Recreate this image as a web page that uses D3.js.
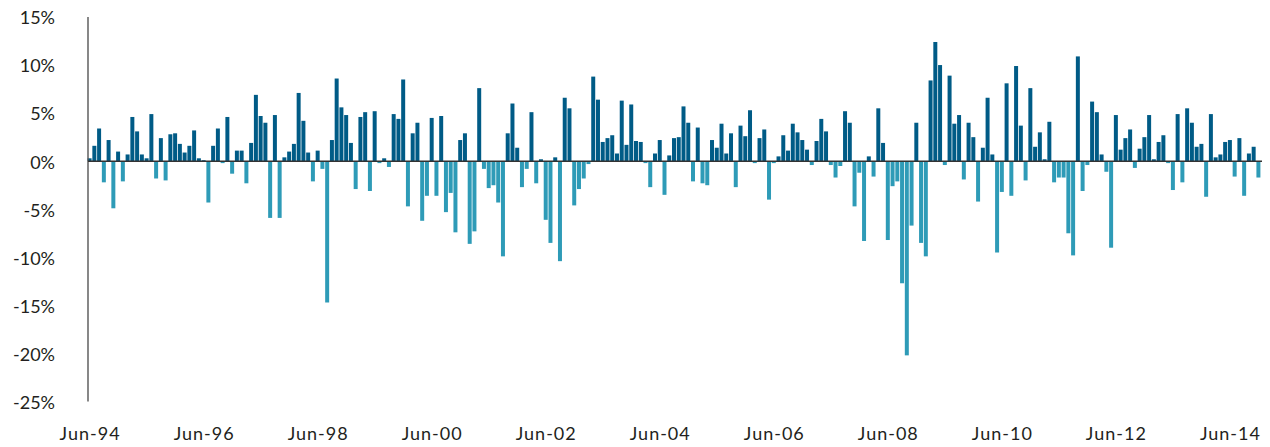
<!DOCTYPE html>
<html>
<head>
	<meta charset="UTF-8">
	<title>Monthly returns</title>
	<script src="https://cdn.jsdelivr.net/npm/d3@7"></script>
	<style>
		body {
			padding: 0;
			margin: 0;
			background: #fff;
		}
		text {
			font-family: Lato, "Noto Sans", sans-serif;
			font-size: 18px;
			fill: #231f20;
		}
	</style>
</head>
<body>
	<script>
		var w = 1270,
			h = 447;

		// monthly returns in %, Jun-94 .. Dec-14
		var returns = [
			0.3, 1.6, 3.4, -2.2, 2.2, -4.9, 1.0, -2.1, 0.7, 4.6, 3.1, 0.7,
			0.3, 4.9, -1.8, 2.4, -2.0, 2.8, 2.9, 1.8, 0.9, 1.6, 3.2, 0.3,
			0.1, -4.3, 1.6, 3.4, -0.2, 4.6, -1.3, 1.1, 1.1, -2.3, 1.9, 6.9,
			4.7, 4.0, -5.9, 4.8, -5.9, 0.4, 1.0, 1.8, 7.1, 4.2, 0.9, -2.1,
			1.1, -0.8, -14.7, 2.2, 8.6, 5.6, 4.8, 1.9, -2.9, 4.6, 5.1, -3.1,
			5.2, -0.2, 0.3, -0.6, 4.9, 4.4, 8.5, -4.7, 2.9, 4.0, -6.2, -3.6,
			4.5, -3.6, 4.7, -5.3, -3.3, -7.4, 2.2, 2.9, -8.6, -7.3, 7.6, -0.8,
			-2.8, -2.5, -4.3, -9.9, 2.9, 6.0, 1.4, -2.7, -0.8, 5.1, -2.3, 0.2,
			-6.1, -8.5, 0.4, -10.4, 6.6, 5.5, -4.6, -2.9, -1.8, -0.3, 8.8, 6.4,
			2.0, 2.4, 2.7, 0.8, 6.3, 1.7, 5.9, 2.1, 2.0, -0.2, -2.7, 0.8,
			2.2, -3.5, 0.6, 2.4, 2.5, 5.7, 4.0, -2.1, 3.5, -2.3, -2.5, 2.2,
			1.4, 3.9, 0.8, 2.9, -2.7, 3.7, 2.6, 5.3, -0.2, 2.4, 3.3, -4.0,
			-0.2, 0.5, 2.7, 1.1, 3.9, 3.0, 2.2, 1.2, -0.4, 2.1, 4.4, 3.1,
			-0.4, -1.7, -0.5, 5.2, 4.0, -4.7, -1.2, -8.3, 0.5, -1.6, 5.5, 1.9,
			-8.2, -2.6, -2.1, -12.7, -20.2, -6.7, 4.0, -8.5, -9.9, 8.4, 12.4, 10.0,
			-0.4, 8.9, 3.9, 4.8, -1.9, 4.0, 2.5, -4.2, 1.4, 6.6, 0.7, -9.5,
			-3.2, 8.1, -3.6, 9.9, 3.7, -2.0, 7.6, 1.5, 3.0, 0.2, 4.1, -2.2,
			-1.7, -1.7, -7.5, -9.8, 10.9, -3.1, -0.4, 6.2, 5.1, 0.7, -1.1, -9.0,
			4.8, 1.2, 2.4, 3.3, -0.7, 1.3, 2.5, 4.8, 0.2, 2.0, 2.7, -0.2,
			-3.0, 4.9, -2.2, 5.5, 4.0, 1.5, 1.8, -3.7, 4.9, 0.4, 0.7, 2.0,
			2.2, -1.6, 2.4, -3.6, 0.8, 1.5, -1.7
		];

		var yTicks = [15, 10, 5, 0, -5, -10, -15, -20, -25];
		var monthNames = ["Jan", "Feb", "Mar", "Apr", "May", "Jun", "Jul", "Aug", "Sep", "Oct", "Nov", "Dec"];

		// month labels starting at Jun-94
		var months = returns.map(function (d, i) {
			var m = (5 + i) % 12,
				yr = 94 + Math.floor((5 + i) / 12);
			return monthNames[m] + "-" + String(yr % 100).padStart(2, "0");
		});
		var xLabels = months.filter(function (d, i) { return i % 24 === 0; });

		var posColor = "#005b86",
			negColor = "#2e9bb7";

		var svg = d3.select("body").append("svg")
			.attr("width", w)
			.attr("height", h);

		var x = d3.scaleBand()
			.domain(months)
			.range([87.6, 1260.4])
			.paddingInner(0.16)
			.paddingOuter(0);

		var y = d3.scaleLinear()
			.domain([-25, 15])
			.range([401.5, 17]);

		// bars
		svg.append("g")
			.selectAll("rect")
			.data(returns)
			.enter().append("rect")
			.attr("x", function (d, i) { return x(months[i]); })
			.attr("width", x.bandwidth())
			.attr("y", function (d) { return y(Math.max(0, d)); })
			.attr("height", function (d) { return Math.abs(y(d) - y(0)); })
			.style("fill", function (d) { return d >= 0 ? posColor : negColor; });

		// y axis: labels only plus a plain vertical line
		var yAxis = d3.axisLeft(y)
			.tickValues(yTicks)
			.tickSize(0)
			.tickPadding(0)
			.tickFormat(function (d) { return d + "%"; });

		var gy = svg.append("g")
			.attr("transform", "translate(55,0)")
			.call(yAxis)
			.attr("font-family", null)
			.attr("font-size", null);
		gy.select(".domain").remove();
		gy.selectAll("text")
			.attr("dy", "0.38em")
			.attr("fill", null);

		svg.append("line")
			.attr("x1", 88).attr("x2", 88)
			.attr("y1", y(15)).attr("y2", y(-25))
			.style("stroke", "#555")
			.style("stroke-width", 1.4);

		// zero line
		svg.append("line")
			.attr("x1", 88).attr("x2", 1262)
			.attr("y1", y(0)).attr("y2", y(0))
			.style("stroke", "#333")
			.style("stroke-width", 1.5);

		// x labels every two years
		var xAxis = d3.axisBottom(x)
			.tickValues(xLabels)
			.tickSize(0)
			.tickPadding(0);

		var gx = svg.append("g")
			.attr("transform", "translate(0.5,440)")
			.call(xAxis)
			.attr("font-family", null)
			.attr("font-size", null);
		gx.select(".domain").remove();
		gx.selectAll("text")
			.attr("y", 0)
			.attr("dy", 0)
			.style("letter-spacing", "1px")
			.attr("fill", null);
	</script>
</body>
</html>
